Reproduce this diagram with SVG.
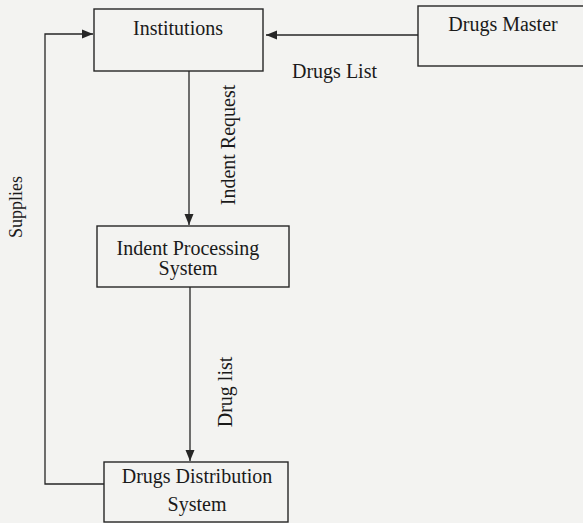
<svg xmlns="http://www.w3.org/2000/svg" width="583" height="523" viewBox="0 0 583 523">
  <style>
    .box { fill: none; stroke: #262626; stroke-width: 1.4; }
    .line { fill: none; stroke: #262626; stroke-width: 1.3; }
    .lbl { font-family: "Liberation Serif", "Times New Roman", serif; font-size: 20px; fill: #1a1a1a; }
    .mid { text-anchor: middle; }
  </style>
  <defs>
    <marker id="arrow" viewBox="0 0 11 10" refX="11" refY="5" markerWidth="11" markerHeight="10" markerUnits="userSpaceOnUse" orient="auto">
      <path d="M0,0.5 L11,5 L0,9.5 Z" fill="#262626"/>
    </marker>
  </defs>
  <rect x="0" y="0" width="583" height="523" fill="#f3f3f1"/>

  <g id="connectors">
    <!-- Drugs Master -> Institutions -->
    <line class="line" x1="418" y1="35" x2="266" y2="35" marker-end="url(#arrow)"/>
    <!-- Institutions -> Indent Processing System -->
    <line class="line" x1="189" y1="71" x2="189" y2="225" marker-end="url(#arrow)"/>
    <!-- Indent Processing System -> Drugs Distribution System -->
    <line class="line" x1="190" y1="287" x2="190" y2="461" marker-end="url(#arrow)"/>
    <!-- Supplies loop back to Institutions -->
    <polyline class="line" points="104,484 45,484 45,34 93,34" marker-end="url(#arrow)"/>
    <text class="lbl" x="292" y="78">Drugs List</text>
    <text class="lbl mid" transform="translate(235,145) rotate(-90)">Indent Request</text>
    <text class="lbl mid" transform="translate(232,392) rotate(-90)">Drug list</text>
    <text class="lbl mid" style="font-size:18px" transform="translate(22,207) rotate(-90)">Supplies</text>
  </g>

  <g id="institutions">
    <rect class="box" x="94" y="9" width="169" height="62"/>
    <text class="lbl mid" x="178" y="35">Institutions</text>
  </g>

  <g id="drugs-master">
    <rect class="box" x="418" y="6" width="175" height="60"/>
    <text class="lbl mid" x="503" y="31">Drugs Master</text>
  </g>

  <g id="indent-processing">
    <rect class="box" x="97" y="226" width="192" height="61"/>
    <text class="lbl mid" x="188" y="255">Indent Processing</text>
    <text class="lbl mid" x="188" y="275">System</text>
  </g>

  <g id="drugs-distribution">
    <rect class="box" x="104" y="462" width="184" height="60"/>
    <text class="lbl mid" x="197" y="483">Drugs Distribution</text>
    <text class="lbl mid" x="197" y="511">System</text>
  </g>
</svg>
